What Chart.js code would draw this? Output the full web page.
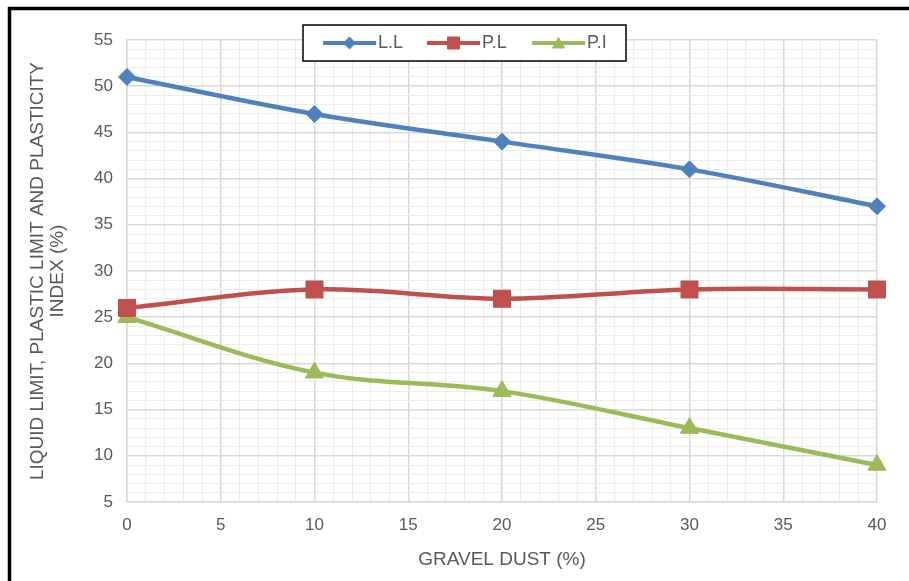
<!DOCTYPE html>
<html lang="en">
<head>
  <meta charset="UTF-8">
  <title>Gravel dust - Atterberg limits</title>
  <script src="https://cdn.jsdelivr.net/npm/chart.js"></script>
  <style>
    html, body { margin: 0; padding: 0; background: #fff; }
    #wrap { width: 909px; height: 581px; }
  </style>
</head>
<body>
  <div id="wrap"><canvas id="limitsChart" width="909" height="581"></canvas></div>

  <script>
    // datos
    const gravelDust = [0, 10, 20, 30, 40];
    const liquidLimit = [51, 47, 44, 41, 37];
    const plasticLimit = [26, 28, 27, 28, 28];
    const plasticityIndex = [25, 19, 17, 13, 9];
    const seriesNames = ['L.L', 'P.L', 'P.I'];

    const fontFam = '"Liberation Sans", Arial, sans-serif';
    const textColor = '#595959';
    const fontSize = 17;
    const titleSize = 19;

    function toPoints(vals) {
      return gravelDust.map((x, i) => ({ x: x, y: vals[i] }));
    }

    // marco negro alrededor del grafico
    const framePlugin = {
      id: 'frame',
      beforeDraw(chart) {
        const c = chart.ctx;
        c.save();
        c.fillStyle = '#fff';
        c.fillRect(0, 0, chart.width, chart.height);
        c.strokeStyle = '#000';
        c.lineWidth = 3.5;
        c.beginPath();
        c.moveTo(9.5, chart.height + 5);
        c.lineTo(9.5, 8.5);
        c.lineTo(chart.width + 5, 8.5);
        c.stroke();
        c.restore();
      }
    };

    // leyenda con borde, encima del area del grafico
    const boxLegend = {
      id: 'boxLegend',
      afterDraw(chart) {
        const c = chart.ctx;
        c.save();
        c.fillStyle = '#fff';
        c.fillRect(303, 25, 323, 36);
        c.strokeStyle = '#000';
        c.lineWidth = 1.5;
        c.strokeRect(303, 25, 323, 36);
        const starts = [323, 427, 532];
        const y = 43;
        chart.data.datasets.forEach((ds, i) => {
          const x0 = starts[i];
          c.strokeStyle = ds.borderColor;
          c.lineWidth = 4;
          c.beginPath();
          c.moveTo(x0, y);
          c.lineTo(x0 + 53, y);
          c.stroke();
          c.fillStyle = ds.backgroundColor;
          c.strokeStyle = ds.borderColor;
          c.lineWidth = 1;
          const r = { rectRot: 6, rect: 8.5, triangle: 7 }[ds.pointStyle];
          Chart.helpers.drawPoint(c, { pointStyle: ds.pointStyle, radius: r, borderWidth: 1 }, x0 + 26.5, y + (ds.pointStyle === 'triangle' ? 1.5 : 0));
          c.fillStyle = textColor;
          c.font = '18px ' + fontFam;
          c.textBaseline = 'middle';
          c.fillText(ds.label, x0 + 55, y);
        });
        c.restore();
      }
    };

    const minorColor = '#ececec';
    const majorColor = '#d9d9d9';

    new Chart(document.getElementById('limitsChart'), {
      type: 'line',
      data: {
        datasets: [
          {
            label: seriesNames[0],
            data: toPoints(liquidLimit),
            borderColor: '#4F81BD',
            backgroundColor: '#4F81BD',
            pointStyle: 'rectRot',
            pointRadius: 8.5,
            borderWidth: 4.5,
            pointBorderWidth: 1,
            clip: false
          },
          {
            label: seriesNames[1],
            data: toPoints(plasticLimit),
            borderColor: '#C0504D',
            backgroundColor: '#C0504D',
            pointStyle: 'rect',
            pointRadius: 12,
            borderWidth: 4.5,
            pointBorderWidth: 1,
            clip: false
          },
          {
            label: seriesNames[2],
            data: toPoints(plasticityIndex),
            borderColor: '#9BBB59',
            backgroundColor: '#9BBB59',
            pointStyle: 'triangle',
            pointRadius: 10.5,
            borderWidth: 4.5,
            pointBorderWidth: 1,
            clip: false
          }
        ]
      },
      options: {
        responsive: false,
        animation: false,
        layout: { padding: { left: 12, top: 40, right: 32, bottom: 0 } },
        elements: { line: { tension: 0.35, fill: false } },
        plugins: {
          legend: { display: false },
          tooltip: { enabled: false }
        },
        scales: {
          x: {
            type: 'linear',
            min: 0,
            max: 40,
            afterFit(scale) { scale.height = 79; },
            afterBuildTicks(scale) {
              const t = [];
              for (let v = 0; v <= 40; v++) t.push({ value: v });
              scale.ticks = t;
            },
            ticks: {
              autoSkip: false,
              maxRotation: 0,
              padding: 13,
              color: textColor,
              font: { family: fontFam, size: fontSize },
              callback: v => (v % 5 === 0 ? String(v) : '')
            },
            grid: {
              drawTicks: false,
              color: c => (c.tick && c.tick.value % 5 === 0 ? majorColor : minorColor),
              lineWidth: c => (c.tick && c.tick.value % 5 === 0 ? 1.5 : 1)
            },
            border: { color: majorColor, width: 1.5 },
            title: {
              display: true,
              text: 'GRAVEL DUST (%)',
              color: textColor,
              font: { family: fontFam, size: titleSize },
              padding: { top: 4, bottom: 10 }
            }
          },
          y: {
            min: 5,
            max: 55,
            afterFit(scale) { scale.width = 115; },
            afterBuildTicks(scale) {
              const t = [];
              for (let v = 5; v <= 55; v++) t.push({ value: v });
              scale.ticks = t;
            },
            ticks: {
              autoSkip: false,
              padding: 14,
              color: textColor,
              font: { family: fontFam, size: fontSize },
              callback: v => (v % 5 === 0 ? String(v) : '')
            },
            grid: {
              drawTicks: false,
              color: c => (c.tick && c.tick.value % 5 === 0 ? majorColor : minorColor),
              lineWidth: c => (c.tick && c.tick.value % 5 === 0 ? 1.5 : 1)
            },
            border: { color: majorColor, width: 1.5 },
            title: {
              display: true,
              text: ['LIQUID LIMIT, PLASTIC LIMIT AND PLASTICITY', 'INDEX (%)'],
              color: textColor,
              font: { family: fontFam, size: titleSize, lineHeight: 1.05 },
              padding: { top: 16, bottom: 0 }
            }
          }
        }
      },
      plugins: [framePlugin, boxLegend]
    });
  </script>
</body>
</html>
